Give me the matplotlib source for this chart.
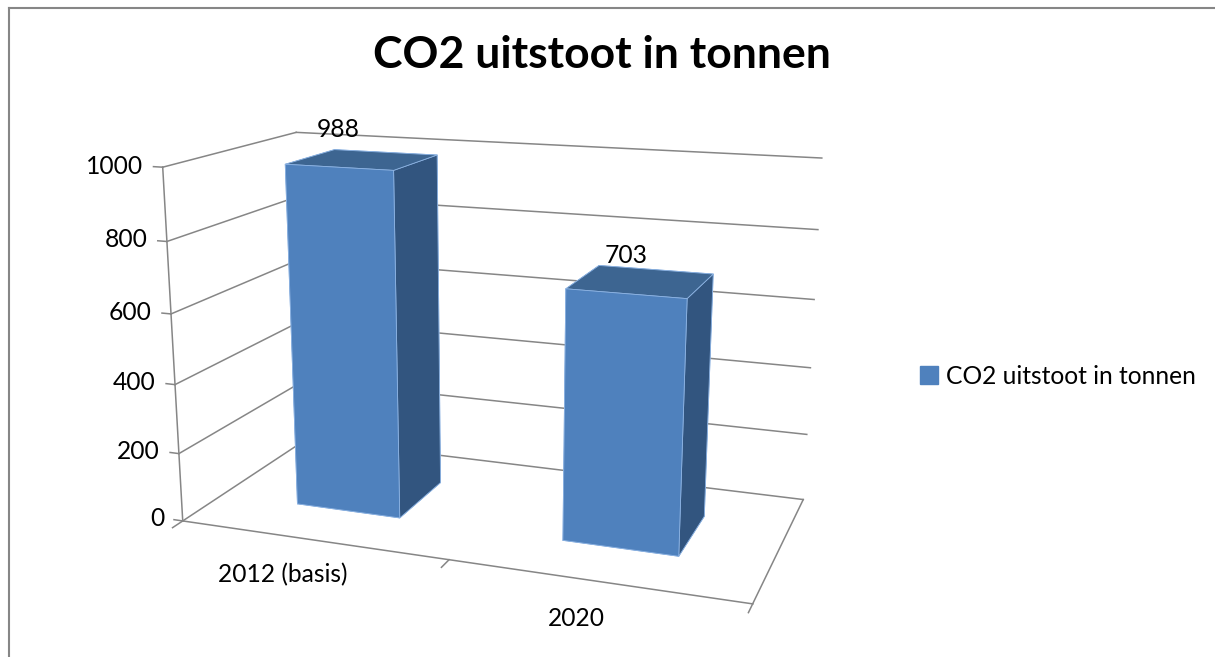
import numpy as np
import matplotlib
matplotlib.use('Agg')
import matplotlib.pyplot as plt
from matplotlib.patches import Patch
from matplotlib.lines import Line2D

# ---- data ----
categories = ['2012 (basis)', '2020']
values = [988, 703]
zticks = [0, 200, 400, 600, 800, 1000]
series_name = 'CO2 uitstoot in tonnen'
title = 'CO2 uitstoot in tonnen'

plt.rcParams['font.family'] = ['Lato', 'DejaVu Sans']
plt.rcParams['axes3d.automargin'] = False

FRONT = '#4F81BD'
TOP = '#3D6591'
SIDE = '#32557F'
EDGE = '#8DB3E2'
GRID = '#868686'
FS = 17.7

fig = plt.figure(figsize=(12.15, 6.57), dpi=100)
ax = fig.add_axes([-0.024, -0.078, 0.853, 1.087], projection='3d',
                  proj_type='persp', focal_length=0.4, computed_zorder=False)
ax.view_init(elev=15, azim=-70)
ax.set_axis_off()
ncat = len(categories)
zmax = zticks[-1]
ax.set_xlim(0, ncat)
ax.set_ylim(0, 1)
ax.set_zlim(0, zmax)
ax.set_box_aspect((ncat, 0.95, 1.24), zoom=1.0)

# walls gridlines
for z in zticks:
    ax.plot([0, ncat], [1, 1], [z, z], color=GRID, lw=1.1, zorder=1)   # back wall
    ax.plot([0, 0], [0, 1], [z, z], color=GRID, lw=1.1, zorder=1)      # left wall
# floor right edge and front edge
ax.plot([ncat, ncat], [0, 1], [0, 0], color=GRID, lw=1.1, zorder=1)
ax.plot([0, ncat], [0, 0], [0, 0], color=GRID, lw=1.1, zorder=3)
# vertical value axis
ax.plot([0, 0], [0, 0], [0, zmax], color=GRID, lw=1.1, zorder=3)
# value ticks
for z in zticks:
    ax.plot([-0.035, 0], [0, 0], [z, z], color=GRID, lw=1.1, zorder=3)
    ax.text(-0.075, 0, z, str(z), ha='right', va='center', fontsize=FS, zorder=4)
# category ticks
for i in range(ncat + 1):
    ax.plot([i, i], [0, -0.07], [0, 0], color=GRID, lw=1.1, zorder=3)

# bars
bw, bd = 0.4, 0.4
xs = np.arange(ncat) + 0.5 - bw / 2
ys = np.full(ncat, 0.5 - bd / 2)
zs = np.zeros(ncat)
face_colors = []
for _ in range(ncat):
    face_colors += [FRONT, TOP, FRONT, FRONT, FRONT, SIDE]
ax.bar3d(xs, ys, zs, bw, bd, values, color=face_colors, shade=False,
         edgecolor=EDGE, linewidth=0.6, zorder=2)

for i, v in enumerate(values):
    ax.text(i + 0.5, 0.5 - bd / 2, v + 0.07 * zmax, str(v), ha='center', va='bottom',
            fontsize=FS, zorder=4)
    ax.text(i + 0.5, -0.22, 0, categories[i], ha='center', va='top', fontsize=FS, zorder=4)

fig.text(0.4955, 1 - 68 / 657, title, ha='center', va='baseline', fontsize=32, fontweight='bold')

fig.legend(handles=[Patch(facecolor=FRONT, edgecolor=FRONT)], labels=[series_name],
           loc='center left', bbox_to_anchor=(0.739, 0.427), frameon=False,
           fontsize=FS, handlelength=0.75, handleheight=0.75, handletextpad=0.3)

# chart area border (top and left visible)
fig.add_artist(Line2D([0.007, 1.0], [0.988, 0.988], transform=fig.transFigure, color='#868686', lw=1.5))
fig.add_artist(Line2D([0.007, 0.007], [0.0, 0.988], transform=fig.transFigure, color='#868686', lw=1.5))

fig.savefig('out.png', dpi=100)
